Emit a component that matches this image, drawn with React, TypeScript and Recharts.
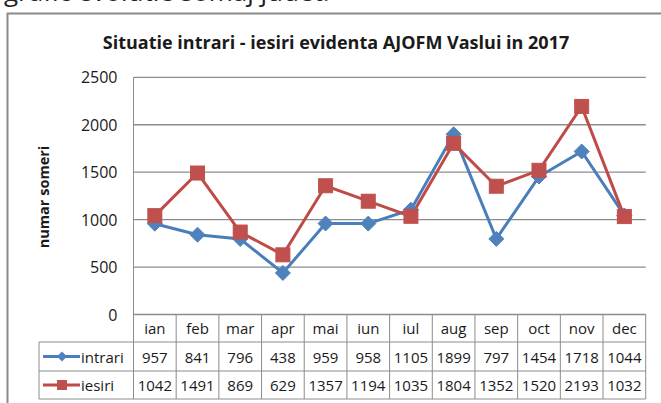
import React from 'react';
import { LineChart, Line, XAxis, YAxis, CartesianGrid } from 'recharts';

const months = ['ian', 'feb', 'mar', 'apr', 'mai', 'iun', 'iul', 'aug', 'sep', 'oct', 'nov', 'dec'];
const intrari = [957, 841, 796, 438, 959, 958, 1105, 1899, 797, 1454, 1718, 1044];
const iesiri = [1042, 1491, 869, 629, 1357, 1194, 1035, 1804, 1352, 1520, 2193, 1032];
const yTicks = [0, 500, 1000, 1500, 2000, 2500];
const seriesNames = ['intrari', 'iesiri'];
const chartTitle = 'Situatie intrari - iesiri evidenta AJOFM Vaslui in 2017';
const yTitle = 'numar someri';
const topText = 'grafic evolutie somaj judet.';

const data = months.map((m, i) => ({ m, intrari: intrari[i], iesiri: iesiri[i] }));

const W = 661;
const H = 403;
const PLOT_L = 133.5;
const PLOT_R = 645.7;
const PLOT_T = 77.3;
const PLOT_B = 314.5;
const COL_W = (PLOT_R - PLOT_L) / months.length;
const TABLE_L = 39;
const ROW1 = 342;
const ROW2 = 371;
const ROW3 = 399;
const GRID = '#8c8c8c';
const BLUE_LINE = '#4A7EBB';
const BLUE_FILL = '#4F81BD';
const RED_LINE = '#BE4B48';
const RED_FILL = '#C0504D';
const FONT = '"Open Sans", "Liberation Sans", sans-serif';
const TXT = '#1a1a1a';

const diamond = (cx: number, cy: number, r: number) =>
  `M${cx},${cy - r}L${cx + r},${cy}L${cx},${cy + r}L${cx - r},${cy}Z`;

const DiamondDot = (p: any) => {
  if (p.cx == null || p.cy == null) return <g key={p.index} />;
  return <path key={p.index} d={diamond(p.cx, p.cy, 7.5)} fill={BLUE_FILL} stroke={BLUE_FILL} strokeWidth={1} />;
};
const SquareDot = (p: any) => {
  if (p.cx == null || p.cy == null) return <g key={p.index} />;
  return <rect key={p.index} x={p.cx - 7} y={p.cy - 7} width={14} height={14} fill={RED_FILL} stroke={RED_FILL} strokeWidth={1} />;
};

const XTick = (props: any) => {
  const { x, payload } = props;
  const i: number = payload.index ?? props.index ?? 0;
  const right = x + COL_W / 2;
  const left = x - COL_W / 2;
  const r1 = (ROW1 + ROW2) / 2;
  const r2 = (ROW2 + ROW3) / 2;
  const rh = (PLOT_B + ROW1) / 2;
  return (
    <g>
      {i === 0 && (
        <g>
          <line x1={TABLE_L} y1={ROW1} x2={PLOT_R} y2={ROW1} stroke={GRID} />
          <line x1={TABLE_L} y1={ROW2} x2={PLOT_R} y2={ROW2} stroke={GRID} />
          <line x1={TABLE_L} y1={ROW3} x2={PLOT_R} y2={ROW3} stroke={GRID} />
          <line x1={TABLE_L} y1={ROW1} x2={TABLE_L} y2={ROW3} stroke={GRID} />
          <line x1={left} y1={PLOT_B} x2={left} y2={ROW3} stroke={GRID} />
          <line x1={43} y1={r1} x2={80} y2={r1} stroke={BLUE_LINE} strokeWidth={3} />
          <path d={diamond(62, r1, 5)} fill={BLUE_FILL} />
          <text x={81} y={r1} dominantBaseline="central" fontSize={15} fontFamily={FONT} fill={TXT}>{seriesNames[0]}</text>
          <line x1={43} y1={r2} x2={80} y2={r2} stroke={RED_LINE} strokeWidth={3} />
          <rect x={57} y={r2 - 5} width={10} height={10} fill={RED_FILL} />
          <text x={81} y={r2} dominantBaseline="central" fontSize={15} fontFamily={FONT} fill={TXT}>{seriesNames[1]}</text>
        </g>
      )}
      <line x1={right} y1={PLOT_B} x2={right} y2={ROW3} stroke={GRID} />
      <text x={x} y={rh} textAnchor="middle" dominantBaseline="central" fontSize={15} fontFamily={FONT} fill={TXT}>{payload.value}</text>
      <text x={x} y={r1} textAnchor="middle" dominantBaseline="central" fontSize={15} fontFamily={FONT} fill={TXT}>{intrari[i]}</text>
      <text x={x} y={r2} textAnchor="middle" dominantBaseline="central" fontSize={15} fontFamily={FONT} fill={TXT}>{iesiri[i]}</text>
    </g>
  );
};

const YTick = (props: any) => {
  const { x, y, payload } = props;
  return (
    <text x={x} y={y} textAnchor="end" dominantBaseline="central" fontSize={16} fontFamily={FONT} fill={TXT}>
      {payload.value}
    </text>
  );
};

export default function App() {
  return (
    <div style={{ position: 'fixed', left: 0, top: 0, width: W, height: H, background: '#fff', overflow: 'hidden' }}>
      <LineChart
        width={W}
        height={H}
        data={data}
        margin={{ top: PLOT_T, right: W - PLOT_R, bottom: 0, left: 0 }}
      >
        <CartesianGrid horizontal vertical={false} stroke={GRID} strokeWidth={1.3} />
        <XAxis
          dataKey="m"
          scale="band"
          interval={0}
          height={H - PLOT_B}
          axisLine={{ stroke: GRID }}
          tickLine={false}
          tick={<XTick />}
        />
        <YAxis
          width={PLOT_L}
          domain={[0, 2500]}
          ticks={yTicks}
          axisLine={{ stroke: GRID }}
          tickLine={false}
          tickSize={6}
          tickMargin={10}
          tick={<YTick />}
          interval={0}
        />
        <Line
          type="linear"
          dataKey="intrari"
          stroke={BLUE_LINE}
          strokeWidth={3}
          dot={DiamondDot}
          activeDot={false}
          isAnimationActive={false}
        />
        <Line
          type="linear"
          dataKey="iesiri"
          stroke={RED_LINE}
          strokeWidth={3}
          dot={SquareDot}
          activeDot={false}
          isAnimationActive={false}
        />
      </LineChart>
      <svg width={W} height={H} style={{ position: 'absolute', left: 0, top: 0, pointerEvents: 'none' }}>
        <text x={4} y={0.5} fontSize={26} fontFamily={FONT} fill="#222">{topText}</text>
        <rect x={7.5} y={13.5} width={700} height={500} fill="none" stroke="#8a8a8a" strokeWidth={2} />
        <text x={336} y={42} textAnchor="middle" dominantBaseline="central" fontSize={18} fontWeight="bold" fontFamily={FONT} fill={TXT}>
          {chartTitle}
        </text>
        <text
          x={43}
          y={197}
          transform="rotate(-90 43 197)"
          textAnchor="middle"
          dominantBaseline="central"
          fontSize={14.5}
          fontWeight="bold"
          fontFamily={FONT}
          fill={TXT}
        >
          {yTitle}
        </text>
      </svg>
    </div>
  );
}
